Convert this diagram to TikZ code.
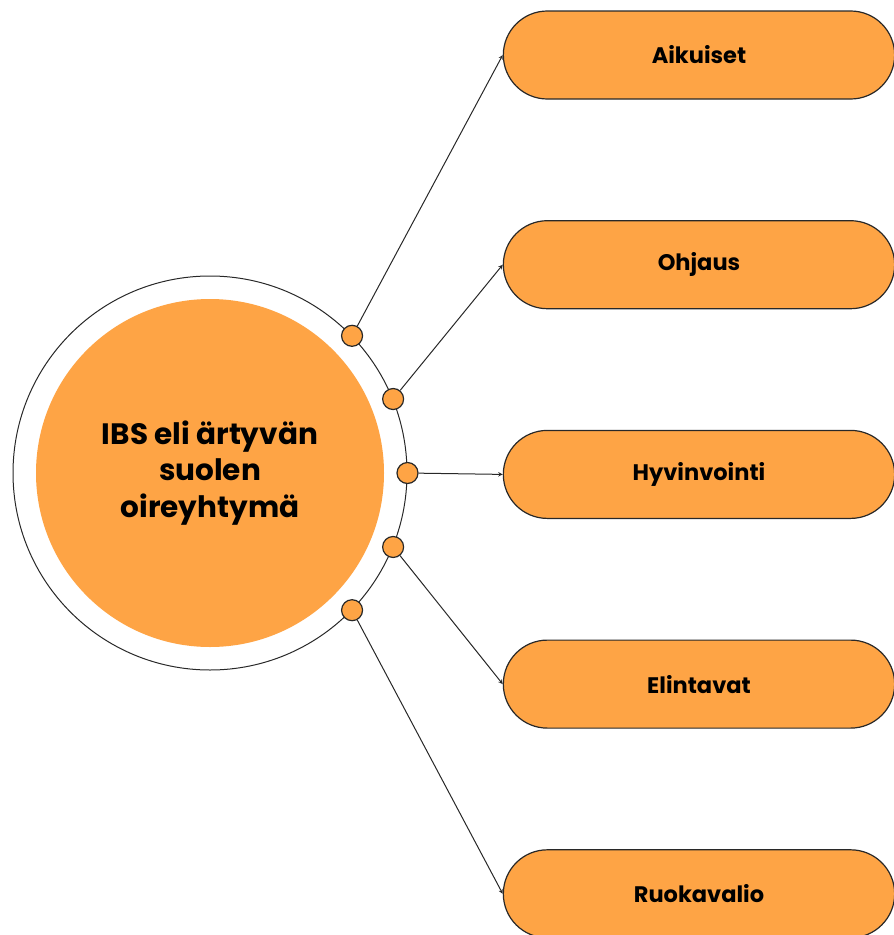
\documentclass[tikz,border=0pt]{standalone}
\usepackage{fontspec}
\setmainfont{Poppins}
\usetikzlibrary{positioning,shapes.misc}
\definecolor{ibsorange}{RGB}{254,164,69}
\definecolor{linegray}{RGB}{40,40,40}
\begin{document}
\begin{tikzpicture}
            [x=1pt, y=-1pt, node distance=120.5pt,
             topic/.style={rounded rectangle, draw=linegray, line width=1.2pt, fill=ibsorange,
                           minimum width=398pt, minimum height=88pt,
                           font=\bfseries\fontsize{22.5}{26}\selectfont},
             joint/.style={circle, draw=linegray, line width=1.2pt, fill=ibsorange,
                           minimum size=21pt, inner sep=0pt}]
            \useasboundingbox (0,0) rectangle (894,935);

            \node[circle, draw=linegray, line width=1pt, fill=white, minimum size=394pt] (ring) at (210,473) {};
            \node[circle, fill=ibsorange, minimum size=348pt, align=center,
                  font=\bfseries\fontsize{29.5}{36.5}\selectfont] (core) at (210,473) {IBS eli ärtyvän\\suolen\\oireyhtymä};

            \node[topic] (aikuiset) at (699,55) {Aikuiset};
            \node[topic, below=of aikuiset] (ohjaus) {Ohjaus};
            \node[topic, below=of ohjaus] (hyvinvointi) {Hyvinvointi};
            \node[topic, below=of hyvinvointi] (elintavat) {Elintavat};
            \node[topic, below=of elintavat] (ruokavalio) {Ruokavalio};

            \node[joint] (j1) at (ring.44) {};
            \node[joint] (j2) at (ring.22) {};
            \node[joint] (j3) at (ring.0) {};
            \node[joint] (j4) at (ring.-22) {};
            \node[joint] (j5) at (ring.-44) {};

            \draw[-stealth, linegray, line width=1pt] (j1) -- (aikuiset.west);
            \draw[-stealth, linegray, line width=1pt] (j2) -- (ohjaus.west);
            \draw[-stealth, linegray, line width=1pt] (j3) -- (hyvinvointi.west);
            \draw[-stealth, linegray, line width=1pt] (j4) -- (elintavat.west);
            \draw[-stealth, linegray, line width=1pt] (j5) -- (ruokavalio.west);
         \end{tikzpicture}
\end{document}
